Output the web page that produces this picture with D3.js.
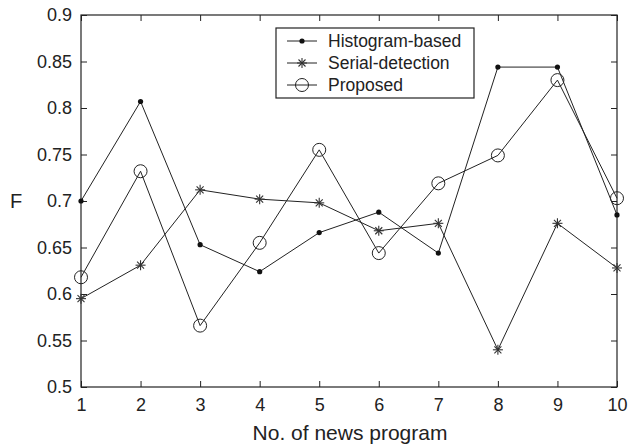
<!DOCTYPE html>
<html>
<head>
<meta charset="utf-8">
<script src="https://cdn.jsdelivr.net/npm/d3@7"></script>
<style>
  body { margin: 0; background: #fff; }
  text { font-family: "Liberation Sans", Arial, sans-serif; fill: #222; }
</style>
</head>
<body>
<div class="center"></div>
<script>
// data
var programs = [1, 2, 3, 4, 5, 6, 7, 8, 9, 10];
var histogram = [0.700, 0.807, 0.653, 0.624, 0.666, 0.688, 0.644, 0.844, 0.844, 0.685];
var serial = [0.595, 0.631, 0.712, 0.702, 0.698, 0.668, 0.676, 0.540, 0.676, 0.628];
var proposed = [0.618, 0.732, 0.566, 0.655, 0.755, 0.644, 0.719, 0.749, 0.830, 0.703];
var yTicks = [0.5, 0.55, 0.6, 0.65, 0.7, 0.75, 0.8, 0.85, 0.9];
var seriesNames = ["Histogram-based", "Serial-detection", "Proposed"];

var margin = {top: 15, right: 15, bottom: 59, left: 81},
    width = 632 - margin.left - margin.right,
    height = 446 - margin.top - margin.bottom;

var x = d3.scaleLinear().domain([1, 10]).range([0, width]);
var y = d3.scaleLinear().domain([0.5, 0.9]).range([height, 0]);

var svg = d3.select("div.center").append("svg")
    .attr("width", 632)
    .attr("height", 446)
    .append("g")
    .attr("transform", "translate(" + margin.left + "," + margin.top + ")");

// frame
svg.append("rect")
    .attr("width", width).attr("height", height)
    .attr("fill", "none").attr("stroke", "#222").attr("stroke-width", 1.2);

// axes with inward ticks
var xAxis = svg.append("g")
    .attr("transform", "translate(0," + height + ")")
    .call(d3.axisBottom(x).tickValues(programs).tickSizeInner(-6).tickSizeOuter(0).tickPadding(11));
var xTop = svg.append("g")
    .call(d3.axisTop(x).tickValues(programs).tickSizeInner(-6).tickSizeOuter(0).tickFormat(""));
var yAxis = svg.append("g")
    .call(d3.axisLeft(y).tickValues(yTicks).tickSizeInner(-6).tickSizeOuter(0).tickPadding(9)
      .tickFormat(function(d) { return d3.format("")(+d.toFixed(2)); }));
var yRight = svg.append("g")
    .attr("transform", "translate(" + width + ",0)")
    .call(d3.axisRight(y).tickValues(yTicks).tickSizeInner(-6).tickSizeOuter(0).tickFormat(""));

[xAxis, xTop, yAxis, yRight].forEach(function(a) {
    a.select(".domain").remove();
    a.selectAll("line").attr("stroke", "#222");
    a.selectAll("text").attr("font-size", 18).attr("font-family", "Liberation Sans, Arial, sans-serif").attr("fill", "#222");
});

// axis titles
svg.append("text")
    .attr("x", width / 2 + 1).attr("y", height + 53)
    .attr("text-anchor", "middle").attr("font-size", 21)
    .text("No. of news program");
svg.append("text")
    .attr("x", -71).attr("y", y(0.7) + 7)
    .attr("font-size", 20)
    .text("F");

var line = d3.line()
    .x(function(d, i) { return x(programs[i]); })
    .y(function(d) { return y(d); });

var allSeries = [histogram, serial, proposed];

allSeries.forEach(function(s) {
    svg.append("path")
        .datum(s)
        .attr("fill", "none")
        .attr("stroke", "#222")
        .attr("stroke-width", 1)
        .attr("d", line);
});

function drawMarker(g, type, cx, cy) {
    if (type === 0) {
        g.append("circle").attr("cx", cx).attr("cy", cy).attr("r", 2.6).attr("fill", "#111");
    } else if (type === 1) {
        var r = 5;
        [[-r, 0, r, 0], [0, -r, 0, r], [-r * 0.7, -r * 0.7, r * 0.7, r * 0.7], [-r * 0.7, r * 0.7, r * 0.7, -r * 0.7]]
          .forEach(function(l) {
            g.append("line")
                .attr("x1", cx + l[0]).attr("y1", cy + l[1])
                .attr("x2", cx + l[2]).attr("y2", cy + l[3])
                .attr("stroke", "#333").attr("stroke-width", 1.1);
          });
    } else {
        g.append("circle").attr("cx", cx).attr("cy", cy).attr("r", 6.5)
            .attr("fill", "none").attr("stroke", "#222").attr("stroke-width", 1);
    }
}

allSeries.forEach(function(s, k) {
    var g = svg.append("g");
    s.forEach(function(d, i) { drawMarker(g, k, x(programs[i]), y(d)); });
});

// legend
var legend = svg.append("g").attr("transform", "translate(" + (276 - margin.left) + "," + (28 - margin.top) + ")");
legend.append("rect")
    .attr("width", 198).attr("height", 70)
    .attr("fill", "#fff").attr("stroke", "#222").attr("stroke-width", 1.2);
seriesNames.forEach(function(name, k) {
    var ly = 13 + k * 22;
    legend.append("line")
        .attr("x1", 11).attr("x2", 41).attr("y1", ly).attr("y2", ly)
        .attr("stroke", "#222").attr("stroke-width", 1);
    drawMarker(legend, k, 26, ly);
    legend.append("text")
        .attr("x", 52).attr("y", ly + 6)
        .attr("font-size", 17.5)
        .text(name);
});
</script>
</body>
</html>
